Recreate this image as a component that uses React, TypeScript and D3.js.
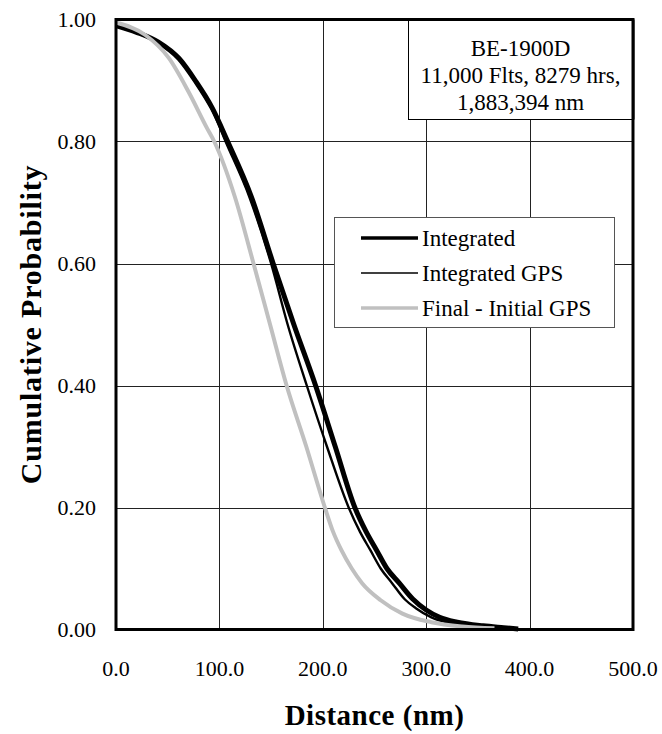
import React from "react";
import * as d3 from "d3";

const xTicks = [0, 100, 200, 300, 400, 500];
const xTickLabels = ["0.0", "100.0", "200.0", "300.0", "400.0", "500.0"];
const yTicks = [0, 0.2, 0.4, 0.6, 0.8, 1.0];
const yTickLabels = ["0.00", "0.20", "0.40", "0.60", "0.80", "1.00"];

const seriesNames = ["Integrated", "Integrated GPS", "Final - Initial GPS"];

const integratedDist = [0, 20, 41, 61, 77, 93, 108, 131, 152, 172, 193, 212, 231, 242, 252, 262, 274, 287, 300, 313, 330, 355, 375, 389];
const integratedProb = [0.99, 0.979, 0.963, 0.936, 0.899, 0.855, 0.8, 0.709, 0.6, 0.5, 0.4, 0.3, 0.2, 0.16, 0.13, 0.1, 0.076, 0.05, 0.032, 0.02, 0.012, 0.006, 0.003, 0.001];

const gpsDist = [0, 20, 41, 61, 77, 93, 106, 129, 150, 166, 184.5, 204, 225, 236, 246, 256, 267, 279, 290, 305, 325, 350, 365];
const gpsProb = [0.99, 0.978, 0.962, 0.935, 0.897, 0.852, 0.8, 0.709, 0.6, 0.5, 0.4, 0.3, 0.2, 0.16, 0.13, 0.1, 0.076, 0.05, 0.035, 0.02, 0.01, 0.004, 0.002];

const finalDist = [0, 28, 51, 70, 88, 95, 115, 133, 149, 165, 184, 202, 210, 218, 228, 238, 256, 277, 305, 335, 366];
const finalProb = [0.995, 0.975, 0.937, 0.882, 0.822, 0.8, 0.709, 0.6, 0.5, 0.4, 0.3, 0.2, 0.16, 0.13, 0.1, 0.076, 0.048, 0.026, 0.012, 0.005, 0.002];

const boxLines = ["BE-1900D", "11,000 Flts, 8279 hrs,", "1,883,394 nm"];

const W = 662;
const H = 734;
const L = 116, R = 633, T = 19.5, B = 629.5;

export default function App() {
  const x = d3.scaleLinear().domain([0, 500]).range([L, R]);
  const y = d3.scaleLinear().domain([0, 1]).range([B, T]);
  const line = d3
    .line<[number, number]>()
    .x((d) => x(d[0]))
    .y((d) => y(d[1]))
    .curve(d3.curveMonotoneX);

  const zip = (a: number[], b: number[]) => a.map((v, i) => [v, b[i]] as [number, number]);

  const series = [
    { name: seriesNames[0], data: zip(integratedDist, integratedProb), color: "#000", width: 5, lw: 3.5 },
    { name: seriesNames[1], data: zip(gpsDist, gpsProb), color: "#000", width: 2.4, lw: 1.6 },
    { name: seriesNames[2], data: zip(finalDist, finalProb), color: "#c0c0c0", width: 4, lw: 3.5 },
  ];

  const font = "'Liberation Serif', 'Times New Roman', serif";

  return (
    <svg width={W} height={H} style={{ position: "absolute", left: 0, top: 0, background: "#fff" }} fontFamily={font}>
      <rect x={0} y={0} width={W} height={H} fill="#fff" />
      {xTicks.slice(1, -1).map((t) => (
        <line key={"gx" + t} x1={Math.round(x(t)) + 0.5} x2={Math.round(x(t)) + 0.5} y1={T} y2={B} stroke="#222" strokeWidth={1} />
      ))}
      {yTicks.slice(1, -1).map((t) => (
        <line key={"gy" + t} x1={L} x2={R} y1={Math.round(y(t)) + 0.5} y2={Math.round(y(t)) + 0.5} stroke="#222" strokeWidth={1} />
      ))}
      {series.map((s) => (
        <path key={s.name} d={line(s.data) || ""} fill="none" stroke={s.color} strokeWidth={s.width} strokeLinejoin="round" />
      ))}
      <rect x={L} y={T} width={R - L} height={B - T} fill="none" stroke="#000" strokeWidth={3} />
      {yTicks.map((t, i) => (
        <text key={"yl" + t} x={96} y={y(t)} textAnchor="end" dominantBaseline="central" fontSize={22}>
          {yTickLabels[i]}
        </text>
      ))}
      {xTicks.map((t, i) => (
        <text key={"xl" + t} x={x(t)} y={668} textAnchor="middle" dominantBaseline="central" fontSize={22}>
          {xTickLabels[i]}
        </text>
      ))}
      <text x={(L + R) / 2} y={715} textAnchor="middle" dominantBaseline="central" fontSize={29} fontWeight="bold" letterSpacing={0.5}>
        Distance (nm)
      </text>
      <text
        transform={`translate(30, ${(T + B) / 2}) rotate(-90)`}
        textAnchor="middle"
        dominantBaseline="central"
        fontSize={30}
        fontWeight="bold"
        letterSpacing={0.8}
      >
        Cumulative Probability
      </text>
      <rect x={408.5} y={T} width={R - 408.5} height={100} fill="#fff" stroke="#000" strokeWidth={1} />
      {boxLines.map((s, i) => (
        <text key={s} x={(408 + R) / 2} y={48 + i * 27} textAnchor="middle" dominantBaseline="central" fontSize={23}>
          {s}
        </text>
      ))}
      <rect x={R - 1.5} y={T} width={3} height={100} fill="#000" />
      <rect x={L} y={T - 1.5} width={R - L} height={3} fill="#000" />
      <rect x={334.5} y={217.5} width={280} height={110} fill="#fff" stroke="#555" strokeWidth={1} />
      {series.map((s, i) => (
        <g key={"lg" + s.name}>
          <line x1={361} x2={418} y1={238 + i * 35} y2={238 + i * 35} stroke={s.color} strokeWidth={s.lw} />
          <text x={422} y={238 + i * 35} dominantBaseline="central" fontSize={23}>
            {s.name}
          </text>
        </g>
      ))}
    </svg>
  );
}
